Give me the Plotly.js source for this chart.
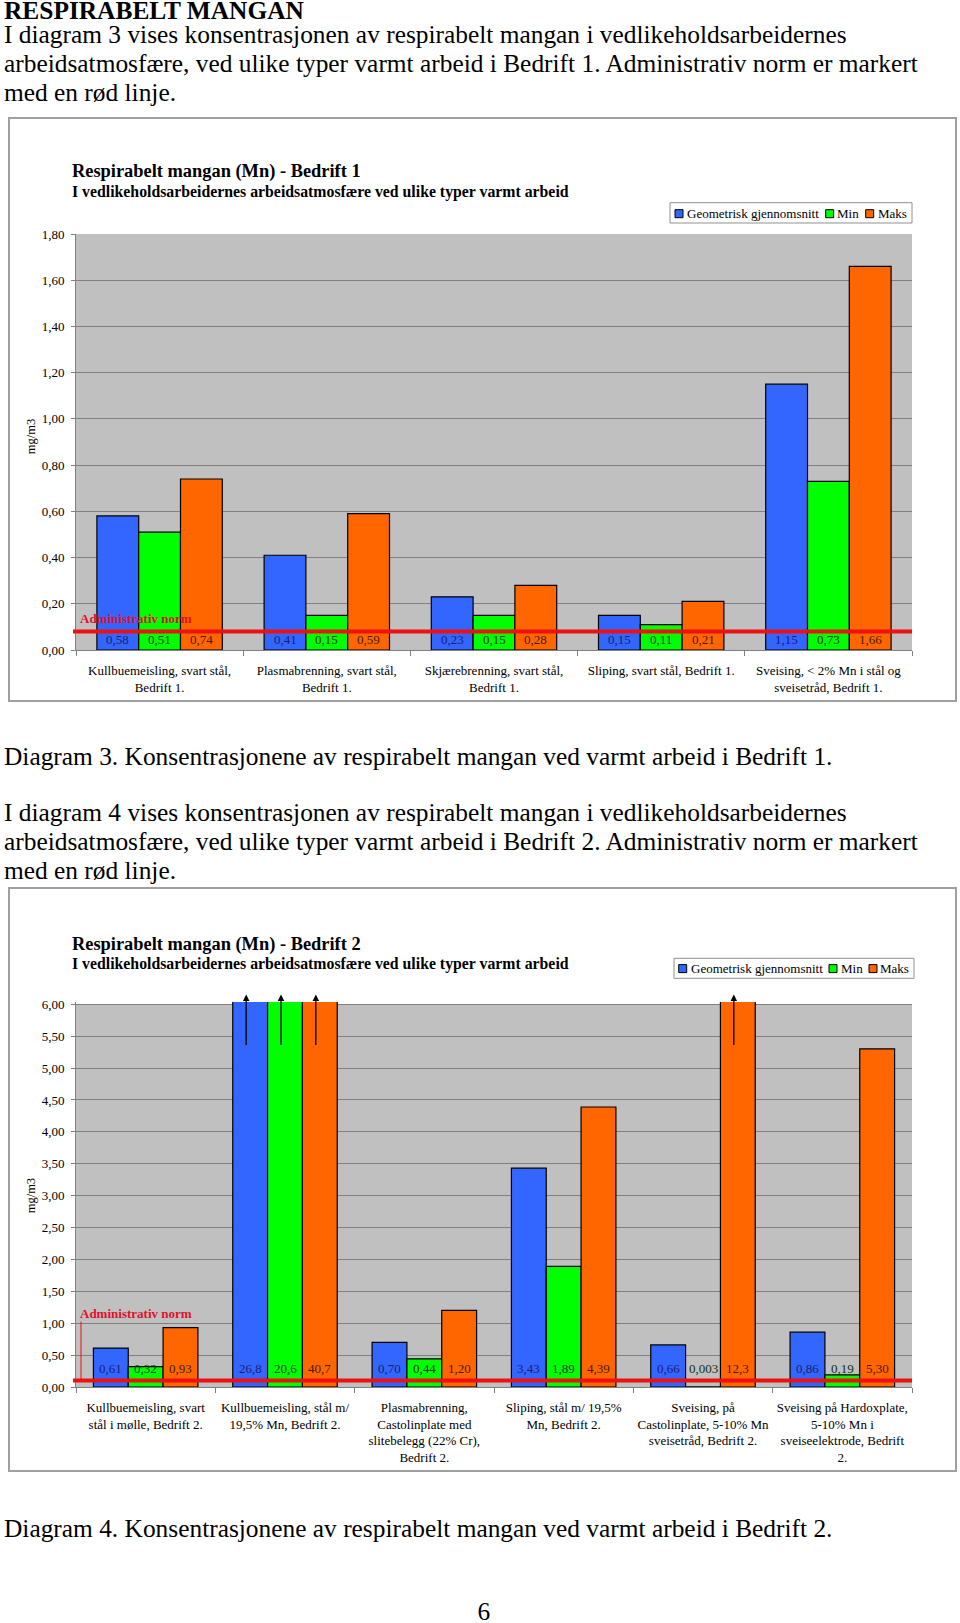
<!DOCTYPE html>
<html><head><meta charset="utf-8">
<script src="https://cdn.plot.ly/plotly-3.0.1.min.js"></script>
<style>
html,body{margin:0;padding:0;background:#fff;}
body{width:960px;height:1623px;position:relative;overflow:hidden;font-family:"Liberation Serif","Times New Roman",serif;color:#000;}
.txt{position:absolute;left:4px;font-size:25.4px;line-height:29px;white-space:nowrap;}
.box{position:absolute;left:8px;width:949px;height:585px;border:2px solid #a0a0a0;box-sizing:border-box;background:#fff;}
.box>div{position:absolute;left:0;top:0;}
</style></head><body>
<div class="txt" style="top:0px;line-height:20px;font-weight:bold;">RESPIRABELT MANGAN</div>
<div class="txt" style="top:19.6px;">I diagram 3 vises konsentrasjonen av respirabelt mangan i vedlikeholdsarbeidernes<br>arbeidsatmosfære, ved ulike typer varmt arbeid i Bedrift 1. Administrativ norm er markert<br>med en rød linje.</div>
<div class="box" style="top:117px;"><div id="c1"></div></div>
<div class="txt" style="top:741.9px;">Diagram 3. Konsentrasjonene av respirabelt mangan ved varmt arbeid i Bedrift 1.</div>
<div class="txt" style="top:797.6px;">I diagram 4 vises konsentrasjonen av respirabelt mangan i vedlikeholdsarbeidernes<br>arbeidsatmosfære, ved ulike typer varmt arbeid i Bedrift 2. Administrativ norm er markert<br>med en rød linje.</div>
<div class="box" style="top:887px;"><div id="c2"></div></div>
<div class="txt" style="top:1513.6px;">Diagram 4. Konsentrasjonene av respirabelt mangan ved varmt arbeid i Bedrift 2.</div>
<div class="txt" style="top:1600px;line-height:22px;left:477.5px;">6</div>
<script>
// ---------- data ----------
const SERIES_NAMES = ['Geometrisk gjennomsnitt', 'Min', 'Maks'];
const SERIES_COLORS = ['#3366FF', '#00FF00', '#FF6600'];
const LABEL_COLORS = ['#1c1c6e', '#123412', '#4a1a00'];

const categories1 = [
  'Kullbuemeisling, svart stål,<br>Bedrift 1.',
  'Plasmabrenning, svart stål,<br>Bedrift 1.',
  'Skjærebrenning, svart stål,<br>Bedrift 1.',
  'Sliping, svart stål, Bedrift 1.',
  'Sveising, &lt; 2% Mn i stål og<br>sveisetråd, Bedrift 1.'
];
const geoMean1 = [0.58, 0.41, 0.23, 0.15, 1.15];
const min1 = [0.51, 0.15, 0.15, 0.11, 0.73];
const max1 = [0.74, 0.59, 0.28, 0.21, 1.66];
const norm1 = 0.08;

const categories2 = [
  'Kullbuemeisling, svart<br>stål i mølle, Bedrift 2.',
  'Kullbuemeisling, stål m/<br>19,5% Mn, Bedrift 2.',
  'Plasmabrenning,<br>Castolinplate med<br>slitebelegg (22% Cr),<br>Bedrift 2.',
  'Sliping, stål m/ 19,5%<br>Mn, Bedrift 2.',
  'Sveising, på<br>Castolinplate, 5-10% Mn<br>sveisetråd, Bedrift 2.',
  'Sveising på Hardoxplate,<br>5-10% Mn i<br>sveiseelektrode, Bedrift<br>2.'
];
const geoMean2 = [0.61, 26.8, 0.70, 3.43, 0.66, 0.86];
const min2 = [0.32, 20.6, 0.44, 1.89, 0.003, 0.19];
const max2 = [0.93, 40.7, 1.20, 4.39, 12.3, 5.30];
const norm2 = 0.1;

const title1 = 'Respirabelt mangan (Mn) - Bedrift 1';
const title2 = 'Respirabelt mangan (Mn) - Bedrift 2';
const subtitle = 'I vedlikeholdsarbeidernes arbeidsatmosfære ved ulike typer varmt arbeid';
const yTitle = 'mg/m3';
const normText = 'Administrativ norm';

// ---------- helpers ----------
const FONT = 'Liberation Serif, Times New Roman, serif';
function fmt2(v) { return v.toFixed(2).replace('.', ','); }
function fmtMixed(v) {
  let s;
  if (v >= 10) s = v.toFixed(1);
  else if (v >= 0.01) s = v.toFixed(2);
  else s = String(v);
  return s.replace('.', ',');
}

function makeChart(divId, o) {
  const W = 945, H = 581;
  const l = o.plotLeft - o.ox, r = W - (o.plotRight - o.ox);
  const t = o.plotTop - o.oy, b = H - (o.plotBottom - o.oy);
  const pw = W - l - r, ph = H - t - b;
  const px = x => (x - o.ox - l) / pw;
  const py = y => 1 - (y - o.oy - t) / ph;
  const n = o.categories.length;
  const idx = o.categories.map((_, i) => i);
  const bargap = 0.25, bw = (1 - bargap) / 3;

  const traces = o.series.map((vals, k) => ({
    type: 'bar', name: SERIES_NAMES[k], x: idx, y: vals,
    marker: {color: SERIES_COLORS[k], line: {color: '#000', width: 1.2}},
    showlegend: false, hoverinfo: 'skip'
  }));

  const ann = [], shapes = [];
  // plot background (grey area up to the top grid line)
  shapes.push({type: 'rect', xref: 'x', yref: 'y', x0: -0.5, x1: n - 0.5, y0: 0, y1: o.gridTop,
    fillcolor: '#C0C0C0', line: {width: 0}, layer: 'below'});
  // norm line
  shapes.push({type: 'line', xref: 'paper', yref: 'y', x0: px(o.plotLeft - 3), x1: 1, y0: o.norm, y1: o.norm,
    line: {color: '#ee1111', width: 4}, layer: 'above'});
  if (o.normTick) {
    shapes.push({type: 'line', xref: 'paper', yref: 'paper', x0: px(81), x1: px(81), y0: py(o.normTick), y1: py(o.normTextY + 8),
      line: {color: '#ee1111', width: 1}, layer: 'above'});
  }
  ann.push({xref: 'paper', yref: 'paper', x: px(78), y: py(o.normTextY), xanchor: 'left', yanchor: 'middle',
    text: '<b>' + normText + '</b>', showarrow: false, font: {family: FONT, size: 13, color: '#e0102a'}});

  // value labels and arrows
  o.series.forEach((vals, k) => vals.forEach((v, i) => {
    const xc = i + (k - 1) * bw;
    ann.push({xref: 'x', yref: 'y', x: xc, y: 0, yshift: o.labelShift, text: o.fmt(v), showarrow: false,
      xanchor: 'center', yanchor: 'middle', font: {family: FONT, size: 13, color: LABEL_COLORS[k]}});
    if (v > o.rangeTop) {
      ann.push({xref: 'x', yref: 'paper', x: xc, xshift: -4, y: py(o.arrowTip), text: '', showarrow: true,
        arrowhead: 2, arrowsize: 1, arrowwidth: 1.3, arrowcolor: '#000', ax: 0, ay: o.arrowLen});
    }
  }));

  // titles
  ann.push({xref: 'paper', yref: 'paper', x: px(70), y: py(o.titleY), xanchor: 'left', yanchor: 'middle',
    text: '<b>' + o.title + '</b>', showarrow: false, font: {family: FONT, size: 18.4, color: '#000'}});
  ann.push({xref: 'paper', yref: 'paper', x: px(70), y: py(o.titleY + 20), xanchor: 'left', yanchor: 'middle',
    text: '<b>' + subtitle + '</b>', showarrow: false, font: {family: FONT, size: 15.8, color: '#000'}});
  // y title
  ann.push({xref: 'paper', yref: 'paper', x: px(31), y: py(o.yTitleY), xanchor: 'center', yanchor: 'middle',
    textangle: -90, text: yTitle, showarrow: false, font: {family: FONT, size: 12.5, color: '#000'}});

  // custom legend
  const L = o.legend;
  shapes.push({type: 'rect', xref: 'paper', yref: 'paper', x0: px(L.x0), x1: px(L.x1), y0: py(L.y0), y1: py(L.y1),
    fillcolor: '#fff', line: {color: '#909090', width: 1}, layer: 'above'});
  SERIES_NAMES.forEach((name, k) => {
    shapes.push({type: 'rect', xref: 'paper', yref: 'paper', x0: px(L.sym[k]), x1: px(L.sym[k] + 8),
      y0: py(L.cy - 4), y1: py(L.cy + 4), fillcolor: SERIES_COLORS[k], line: {color: '#000', width: 1}, layer: 'above'});
    ann.push({xref: 'paper', yref: 'paper', x: px(L.txt[k] - 2), y: py(L.cy), xanchor: 'left', yanchor: 'middle',
      text: name, showarrow: false, font: {family: FONT, size: 13, color: '#000'}});
  });

  const layout = {
    width: W, height: H, margin: {l: l, r: r, t: t, b: b, pad: 0},
    paper_bgcolor: '#fff', plot_bgcolor: 'rgba(0,0,0,0)',
    font: {family: FONT, size: 13, color: '#000'},
    separators: ', ',
    barmode: 'group', bargap: bargap, bargroupgap: 0,
    showlegend: false,
    xaxis: {
      type: 'linear', range: [-0.5, n - 0.5], tickmode: 'array', tickvals: idx, ticktext: o.categories,
      ticks: '', showgrid: false, zeroline: false, showline: true, linecolor: '#808080', linewidth: 1,
      ticklabelstandoff: o.xStandoff, tickfont: {family: FONT, size: 13, color: '#000'},
      minor: {tickmode: 'array', tickvals: idx.concat([n]).map(i => i - 0.5), ticks: 'outside', ticklen: 5,
        tickcolor: '#808080', tickwidth: 1, showgrid: false}
    },
    yaxis: {
      range: [0, o.rangeTop], dtick: o.dtick, tick0: 0, tickformat: '.2f', ticks: 'outside', ticklen: 4,
      tickcolor: '#808080', showline: true, linecolor: '#808080', linewidth: 1,
      showgrid: true, gridcolor: '#808080', gridwidth: 1, zeroline: false,
      ticklabelstandoff: 4, tickfont: {family: FONT, size: 13, color: '#000'}
    },
    annotations: ann, shapes: shapes
  };
  Plotly.newPlot(divId, traces, layout, {staticPlot: true, displayModeBar: false});
}

makeChart('c1', {
  ox: 10, oy: 119, plotLeft: 76, plotRight: 912, plotTop: 234, plotBottom: 649.7,
  categories: categories1, series: [geoMean1, min1, max1], norm: norm1,
  rangeTop: 1.8, gridTop: 1.8, dtick: 0.2, fmt: fmt2, labelShift: 11, xStandoff: 8,
  normTextY: 618.3, normTick: null,
  title: title1, titleY: 172, yTitleY: 437,
  legend: {x0: 670, x1: 912, y0: 202.7, y1: 223, cy: 213.7, sym: [675, 825.7, 865.7], txt: [687, 837, 877.7]}
});

makeChart('c2', {
  ox: 10, oy: 889, plotLeft: 76, plotRight: 912, plotTop: 1001.7, plotBottom: 1386.7,
  categories: categories2, series: [geoMean2, min2, max2], norm: norm2,
  rangeTop: 6.036, gridTop: 6, dtick: 0.5, fmt: fmtMixed, labelShift: 18.7, xStandoff: 8,
  normTextY: 1313.3, normTick: 1380, arrowTip: 994.3, arrowLen: 52,
  title: title2, titleY: 944, yTitleY: 1196,
  legend: {x0: 674, x1: 914, y0: 958, y1: 978, cy: 968.3, sym: [678.7, 829, 869], txt: [690.7, 840.7, 880]}
});
</script>
</body></html>
